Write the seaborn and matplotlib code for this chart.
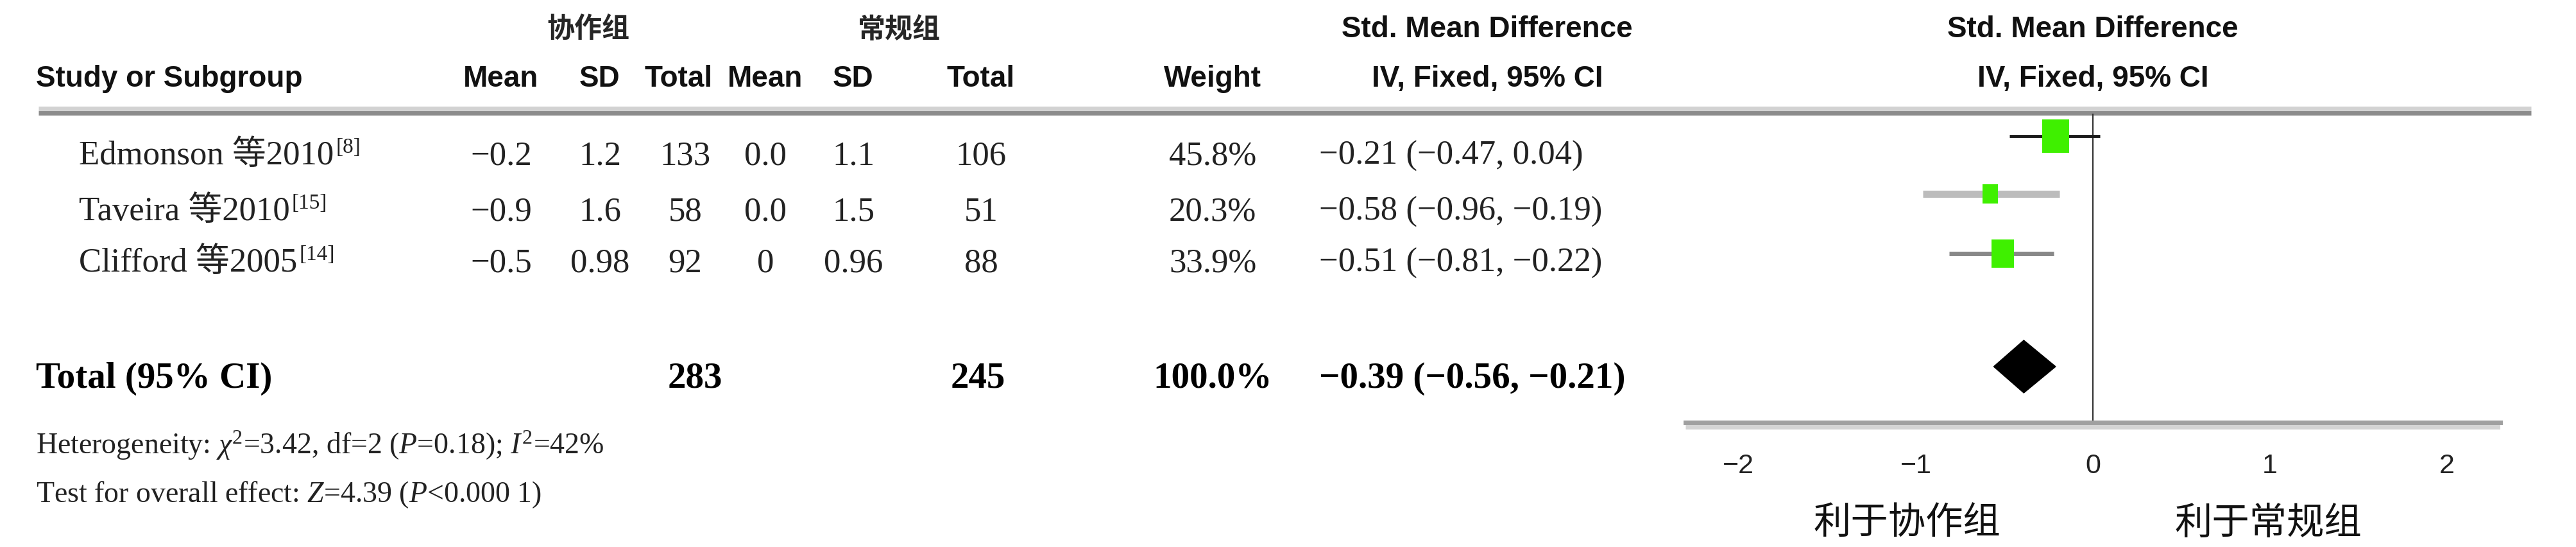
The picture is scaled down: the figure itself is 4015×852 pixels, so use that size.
import numpy as np
import pandas as pd
import matplotlib
matplotlib.use("Agg")
import matplotlib.pyplot as plt
from matplotlib.patches import Polygon
import seaborn as sns

# ==========================================
# DATA
# ==========================================
studies = ["Edmonson 等2010", "Taveira 等2010", "Clifford 等2005"]
refs = ["[8]", "[15]", "[14]"]
exp_mean = ["−0.2", "−0.9", "−0.5"]
exp_sd = ["1.2", "1.6", "0.98"]
exp_n = [133, 58, 92]
ctl_mean = ["0.0", "0.0", "0"]
ctl_sd = ["1.1", "1.5", "0.96"]
ctl_n = [106, 51, 88]
weight = [45.8, 20.3, 33.9]
smd = [-0.21, -0.58, -0.51]
ci_lo = [-0.47, -0.96, -0.81]
ci_hi = [0.04, -0.19, -0.22]

total_n_exp = 283
total_n_ctl = 245
total_weight = 100.0
total_smd = -0.39
total_lo = -0.56
total_hi = -0.21

heterogeneity = r"Heterogeneity: $\chi^2$=3.42, df=2 ($P$=0.18); $I^2$=42%"
overall = r"Test for overall effect: $Z$=4.39 ($P$<0.000 1)"
x_ticks = [-2, -1, 0, 1, 2]
favours = ["利于协作组", "利于常规组"]

# ==========================================
# STYLE
# ==========================================
sns.set_style("white")
plt.rcParams['mathtext.fontset'] = 'custom'
plt.rcParams['mathtext.rm'] = 'Liberation Serif'
plt.rcParams['mathtext.it'] = 'Liberation Serif:italic'
plt.rcParams['mathtext.bf'] = 'Liberation Serif:bold'
plt.rcParams['font.family'] = ['Liberation Serif', 'Noto Sans CJK SC']

SERIF = ['Liberation Serif', 'Noto Sans CJK SC']
SANS = ['Liberation Sans', 'Noto Sans CJK SC']
CJK = ['Noto Sans CJK SC']

W, H = 4016, 853
fig = plt.figure(figsize=(W / 100, H / 100), dpi=100)

# table axes, pixel coordinates
tab = fig.add_axes([0, 0, 1, 1])
tab.set_xlim(0, W)
tab.set_ylim(H, 0)
tab.axis('off')

def fmt(v):
    return f"{v:.2f}".replace('-', '−')

def ci_text(e, lo, hi):
    return f"{fmt(e)} ({fmt(lo)}, {fmt(hi)})"

# header rows
y_h1, y_h2 = 46, 123
hdr = dict(fontsize=33, fontweight='bold', family=SANS, va='center', color='#111111')
tab.text(917, y_h1, "协作组", fontsize=31, fontweight='bold', family=CJK, ha='center', va='center')
tab.text(1401, y_h1, "常规组", fontsize=31, fontweight='bold', family=CJK, ha='center', va='center')
tab.text(2318, y_h1, "Std. Mean Difference", ha='center', **hdr)
tab.text(3262, y_h1, "Std. Mean Difference", ha='center', **hdr)
tab.text(56, y_h2, "Study or Subgroup", ha='left', **hdr)
hdr_x = [781, 935, 1058, 1193, 1330, 1529, 1890]
for cx, lab in zip(hdr_x, ["Mean", "SD", "Total", "Mean", "SD", "Total", "Weight"]):
    tab.text(cx, y_h2, lab, ha='center', **hdr)
tab.text(2318, y_h2, "IV, Fixed, 95% CI", ha='center', **hdr)
tab.text(3262, y_h2, "IV, Fixed, 95% CI", ha='center', **hdr)

# header rule (two tone)
tab.plot([60, 3945], [170, 170], color='#d2d2d2', lw=5, solid_capstyle='butt')
tab.plot([60, 3945], [177, 177], color='#8c8c8c', lw=5, solid_capstyle='butt')

# study rows
col_x = [781, 935, 1068, 1193, 1330, 1529, 1890]
row_y = [243, 330, 410]
cell = dict(fontsize=38, family=SERIF, va='center', color='#222222')
for i, y in enumerate(row_y):
    name = tab.text(123, y, studies[i], ha='left', **cell)
    tab.annotate(refs[i], xy=(1, 0.78), xycoords=name, xytext=(2, 0),
                 textcoords='offset points', fontsize=24, family=SERIF,
                 ha='left', va='center', color='#222222')
    vals = [exp_mean[i], exp_sd[i], str(exp_n[i]), ctl_mean[i], ctl_sd[i],
            str(ctl_n[i]), f"{weight[i]:.1f}%"]
    for cx, v in zip(col_x, vals):
        tab.text(cx, y, v, ha='center', **cell)
    tab.text(2056, y, ci_text(smd[i], ci_lo[i], ci_hi[i]), ha='left', **cell)

# total row
y_tot = 590
bold = dict(cell, fontsize=41, fontweight='bold', color='black')
tab.text(56, y_tot, "Total (95% CI)", ha='left', **bold)
tab.text(col_x[2] + 15, y_tot, str(total_n_exp), ha='center', **bold)
tab.text(col_x[5] - 5, y_tot, str(total_n_ctl), ha='center', **bold)
tab.text(col_x[6], y_tot, f"{total_weight:.1f}%", ha='center', **bold)
tab.text(2056, y_tot, ci_text(total_smd, total_lo, total_hi), ha='left', **bold)

foot = dict(cell, fontsize=33)
tab.text(56, 694, heterogeneity, ha='left', **foot)
tab.text(56, 771, overall, ha='left', **foot)

# ==========================================
# FOREST PLOT
# ==========================================
x0, x1 = 2627, 3897
ax = fig.add_axes([x0 / W, 0, (x1 - x0) / W, 1])
ax.set_facecolor('none')
ax.set_xlim(-2.3, 2.3)
ax.set_ylim(H, 0)

plot_y = [213, 303, 396]
dia_y = 572
y_axis = 659
ax.vlines(0, 178, y_axis, color='#333333', lw=1.6, zorder=1)

ci_colors = ['#1a1a1a', '#bcbcbc', '#888888']
ci_widths = [3.5, 8, 5]
for i, y in enumerate(plot_y):
    ax.hlines(y, ci_lo[i], ci_hi[i], color=ci_colors[i], lw=ci_widths[i], zorder=2)

df = pd.DataFrame({'smd': smd, 'y': plot_y, 'weight': weight})
box = [(-0.8, -1), (0.8, -1), (0.8, 1), (-0.8, 1), (-0.8, -1)]
sns.scatterplot(data=df, x='smd', y='y', size='weight',
                sizes=(470, 1450),
                size_norm=(min(weight), max(weight)),
                marker=box, color='#3ff000', linewidth=0, legend=False,
                ax=ax, zorder=3)

half_h = 41
ax.add_patch(Polygon([(total_lo, dia_y), (total_smd, dia_y - half_h),
                      (total_hi, dia_y), (total_smd, dia_y + half_h)],
                     closed=True, facecolor='black', edgecolor='black', zorder=3))

# x axis
for side in ['left', 'right', 'top']:
    ax.spines[side].set_visible(False)
ax.spines['bottom'].set_position(('data', y_axis))
ax.spines['bottom'].set_color('#a0a0a0')
ax.spines['bottom'].set_linewidth(5)
ax.plot([-2.3, 2.3], [y_axis + 7, y_axis + 7], color='#d4d4d4', lw=5,
        solid_capstyle='butt', zorder=0)
ax.set_yticks([])
ax.set_xticks(x_ticks)
ax.set_xticklabels([str(t).replace('-', '−') for t in x_ticks])
ax.tick_params(axis='x', direction='inout', length=40, width=2, color='#555555',
               pad=14, labelsize=31, labelcolor='#222222')
for lab in ax.get_xticklabels():
    lab.set_family(SANS)
ax.set_xlabel('')
ax.set_ylabel('')

ax.text(-1.05, 815, favours[0], fontsize=42, family=CJK, ha='center', va='center', color='#111111')
ax.text(0.99, 815, favours[1], fontsize=42, family=CJK, ha='center', va='center', color='#111111')

plt.savefig('out.png', dpi=100)
